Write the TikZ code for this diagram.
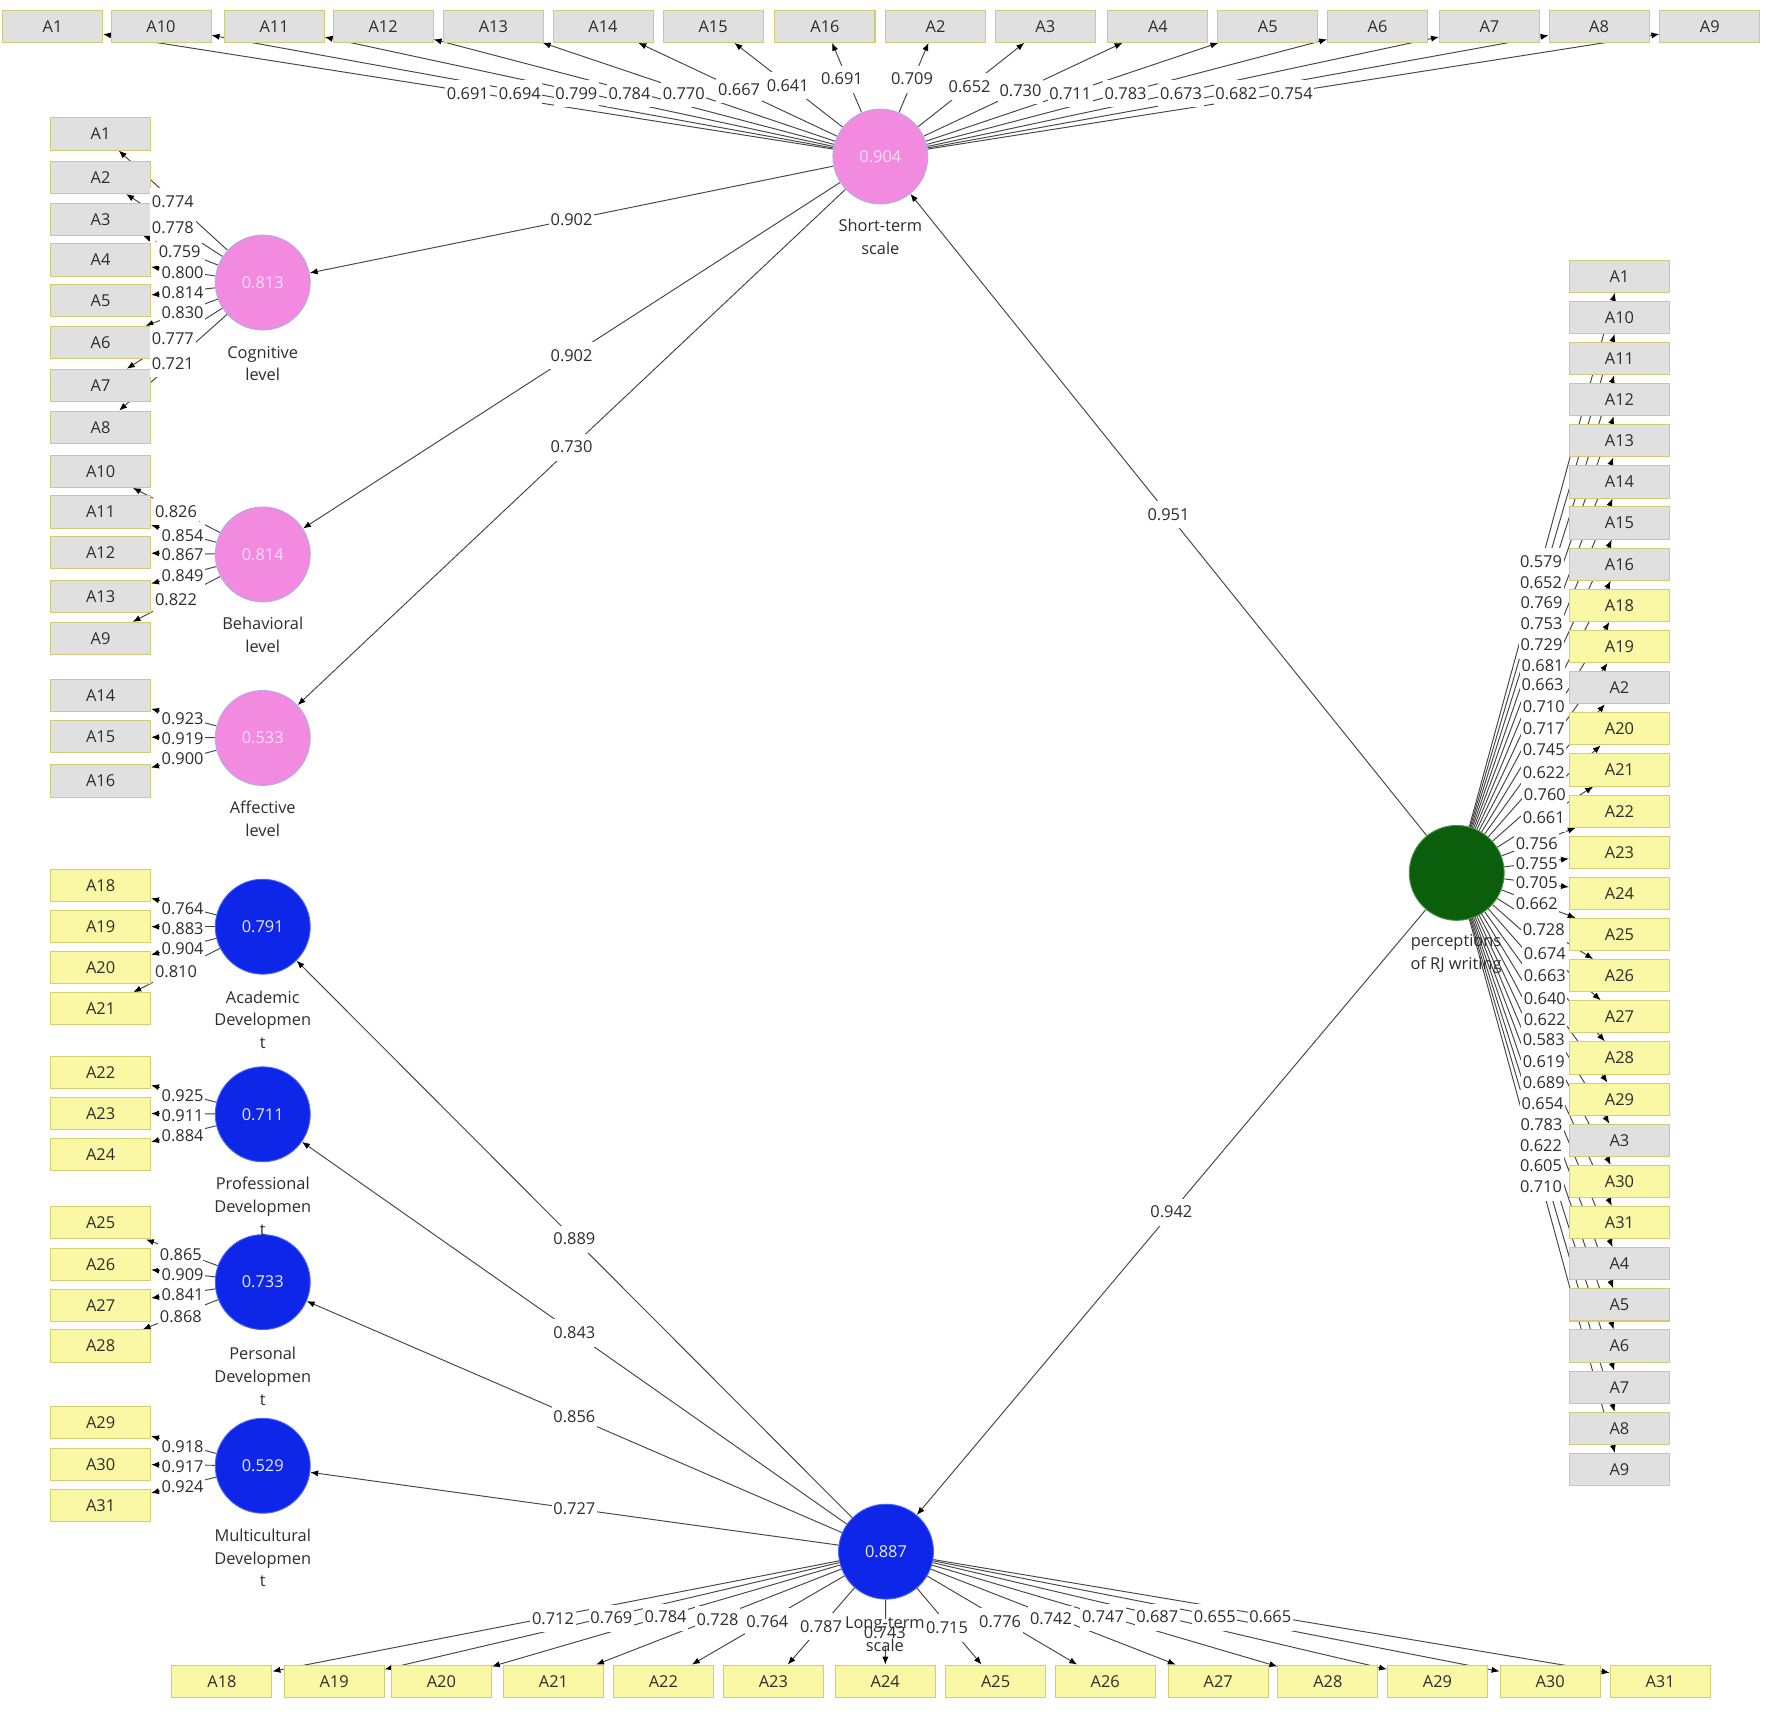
\documentclass[tikz,border=0pt]{standalone}
\usepackage{fontspec}
\setmainfont{Open Sans}
\usetikzlibrary{arrows.meta,calc}
\pgfdeclarelayer{bgl}
\pgfdeclarelayer{edges}
\pgfsetlayers{bgl,edges,main}
\definecolor{gfill}{RGB}{224,224,224}
\definecolor{gborder}{RGB}{205,205,120}
\definecolor{yfill}{RGB}{250,247,165}
\definecolor{yborder}{RGB}{212,206,110}
\definecolor{pinkc}{RGB}{242,138,224}
\definecolor{pinkb}{RGB}{170,175,235}
\definecolor{pinkt}{RGB}{252,222,246}
\definecolor{bluec}{RGB}{14,38,232}
\definecolor{blueb}{RGB}{70,100,255}
\definecolor{bluet}{RGB}{228,234,255}
\definecolor{greenc}{RGB}{11,94,11}
\definecolor{greenb}{RGB}{70,150,70}
\definecolor{edgec}{RGB}{70,70,70}
\definecolor{txtc}{RGB}{45,45,45}
\begin{document}
\begin{tikzpicture}[x=1pt,y=-1pt,
 indic/.style={rectangle, line width=0.9pt, minimum width=88.5pt, minimum height=28.5pt, inner sep=0pt, text=txtc, font=\fontsize{14.5}{16}\selectfont},
 gbox/.style={indic, fill=gfill, draw=gborder},
 ybox/.style={indic, fill=yfill, draw=yborder},
 lv/.style={circle, minimum size=84pt, inner sep=0pt, line width=0.8pt, font=\fontsize{14.5}{16}\selectfont},
 pinklv/.style={lv, fill=pinkc, draw=pinkb, text=pinkt},
 bluelv/.style={lv, fill=bluec, draw=blueb, text=bluet},
 greenlv/.style={lv, fill=greenc, draw=greenb},
 ld/.style={fill=white, inner xsep=1.5pt, inner ysep=1pt, text height=16pt, text depth=6pt, text=txtc, font=\fontsize{14.5}{16}\selectfont},
 cname/.style={align=center, text=txtc, font=\fontsize{14.5}{20.3}\selectfont, inner sep=0pt},
 edge/.style={draw=edgec, line width=0.85pt, -{Latex[length=7pt,width=5.5pt,color=black]}}
]
\useasboundingbox (0,0) rectangle (1568,1519);
\begin{pgfonlayer}{bgl}
\fill[white] (0,0) rectangle (1568,1519);
\end{pgfonlayer}

% latent variables
\node[pinklv] (ST) at (779,138.5) {0.904};
\node[pinklv] (COG) at (232.5,250) {0.813};
\node[pinklv] (BEH) at (232.5,490.6) {0.814};
\node[pinklv] (AFF) at (232.5,653) {0.533};
\node[bluelv] (ACA) at (232.5,820) {0.791};
\node[bluelv] (PRO) at (232.5,986) {0.711};
\node[bluelv] (PER) at (232.5,1134.5) {0.733};
\node[bluelv] (MUL) at (232.5,1297) {0.529};
\node[bluelv] (LT) at (784,1373) {0.887};
\node[greenlv] (PRC) at (1289,772.4) {};

% top row
\foreach \n/\x in {1/46.5,10/142.5,11/242.6,12/339,13/436.6,14/533.6,15/631,16/730,2/827.8,3/925,4/1024.6,5/1121.8,6/1219,7/1318,8/1415,9/1513}
  \node[gbox] (t\n) at (\x,23.2) {A\n};

% left column
\foreach \n/\y in {1/118.5,2/157,3/194,4/230,5/266,6/303,7/341,8/378,10/417,11/453,12/489,13/528,9/565,14/615.5,15/652,16/691}
  \node[gbox] (l\n) at (89,\y) {A\n};
\foreach \n/\y in {18/783.5,19/820,20/856,21/892.7,22/948.7,23/985,24/1021.5,25/1082,26/1118.6,27/1155,28/1191,29/1259,30/1295.6,31/1332}
  \node[ybox] (l\n) at (89,\y) {A\n};

% bottom row
\foreach \n/\x in {18/196.4,19/295.6,20/390.5,21/489.8,22/587,23/684.3,24/783.3,25/881,26/978,27/1078,28/1175,29/1272,30/1371.6,31/1469}
  \node[ybox] (b\n) at (\x,1487.6) {A\n};

% right column
\foreach \n/\i in {1/0,10/1,11/2,12/3,13/4,14/5,15/6,16/7,2/10,3/21,4/24,5/25,6/26,7/27,8/28,9/29}
  \node[gbox] (r\n) at (1433,{244.4+36.41*\i}) {A\n};
\foreach \n/\i in {18/8,19/9,20/11,21/12,22/13,23/14,24/15,25/16,26/17,27/18,28/19,29/20,30/22,31/23}
  \node[ybox] (r\n) at (1433,{244.4+36.41*\i}) {A\n};

% connectors
\begin{pgfonlayer}{edges}
\foreach \n in {1,10,11,12,13,14,15,16,2,3,4,5,6,7,8,9} \draw[edge] (ST) -- (t\n);
\foreach \n in {1,...,8} \draw[edge] (COG) -- (l\n);
\foreach \n in {10,11,12,13,9} \draw[edge] (BEH) -- (l\n);
\foreach \n in {14,15,16} \draw[edge] (AFF) -- (l\n);
\foreach \n in {18,19,20,21} \draw[edge] (ACA) -- (l\n);
\foreach \n in {22,23,24} \draw[edge] (PRO) -- (l\n);
\foreach \n in {25,26,27,28} \draw[edge] (PER) -- (l\n);
\foreach \n in {29,30,31} \draw[edge] (MUL) -- (l\n);
\foreach \n in {18,...,31} \draw[edge] (LT) -- (b\n);
\foreach \n in {1,10,11,12,13,14,15,16,18,19,2,20,21,22,23,24,25,26,27,28,29,3,30,31,4,5,6,7,8,9} \draw[edge] (PRC) -- (r\n);
\draw[edge] (ST) -- (COG);
\draw[edge] (ST) -- (BEH);
\draw[edge] (ST) -- (AFF);
\draw[edge] (PRC) -- (ST);
\draw[edge] (PRC) -- (LT);
\draw[edge] (LT) -- (ACA);
\draw[edge] (LT) -- (PRO);
\draw[edge] (LT) -- (PER);
\draw[edge] (LT) -- (MUL);
\end{pgfonlayer}

% path coefficients
\node[ld] at ($(ST)!0.5!(COG)$) {0.902};
\node[ld] at ($(ST)!0.5!(BEH)$) {0.902};
\node[ld] at ($(ST)!0.5!(AFF)$) {0.730};
\node[ld] at ($(PRC)!0.5!(ST)$) {0.951};
\node[ld] at ($(PRC)!0.5!(LT)$) {0.942};
\node[ld] at ($(LT)!0.5!(ACA)$) {0.889};
\node[ld] at ($(LT)!0.5!(PRO)$) {0.843};
\node[ld] at ($(LT)!0.5!(PER)$) {0.856};
\node[ld] at ($(LT)!0.5!(MUL)$) {0.727};

% loadings: top row
\foreach \v/\x/\y in {0.691/414/83,0.694/460/83,0.799/510/83,0.784/557/83,0.770/605/83,0.667/654/79.5,0.641/697/76,0.691/745/70,0.709/807/70,0.652/858/76.5,0.730/903/80,0.711/947/83,0.783/996/83,0.673/1045/83,0.682/1094/83,0.754/1143/83}
  \node[ld] at (\x,\y) {\v};
% loadings: left side
\foreach \v/\x/\y in {0.774/153/178.5,0.778/153/201.5,0.759/159/223,0.800/161.6/241.3,0.814/161.6/259,0.830/161.6/277,0.777/153/300,0.721/153/322,
  0.826/155.7/452.8,0.854/161.6/474.3,0.867/161.6/491,0.849/161.6/509.7,0.822/155.7/531,
  0.923/161.6/636,0.919/161.6/654,0.900/161.6/671.6,
  0.764/161.6/804.6,0.883/161.6/822,0.904/161.6/839.8,0.810/155.7/859.8,
  0.925/161.6/969.5,0.911/161.6/987,0.884/161.6/1005,
  0.865/160/1110.5,0.909/161.6/1128,0.841/161.6/1146,0.868/160/1165,
  0.918/161.6/1280.5,0.917/161.6/1298,0.924/161.6/1315.5}
  \node[ld] at (\x,\y) {\v};
% loadings: bottom row
\foreach \v/\x/\y in {0.712/489.3/1432.5,0.769/541/1432,0.784/589/1431,0.728/635/1433,0.764/679/1435,0.787/726.5/1439.5,0.743/783/1445,0.715/838/1440.5,0.776/885/1435,0.742/930/1432.7,0.747/976/1431,0.687/1024/1431,0.655/1075/1431,0.665/1124/1431}
  \node[ld] at (\x,\y) {\v};
% loadings: right column
\foreach \v/\x/\y in {0.579/1363.6/497,0.652/1363.6/515.3,0.769/1364/533,0.753/1364/551.6,0.729/1364/570.8,0.681/1365/589,0.663/1365/606,0.710/1366/625.3,0.717/1366/644.5,0.745/1366/663.7,0.622/1366/683.7,0.760/1367/703.5,0.661/1366/724,0.756/1359.8/746.8,0.755/1359.8/764.5,0.705/1359.8/781.6,0.662/1359.8/800,0.728/1366/823,0.674/1367/844,0.663/1367/863.4,0.640/1367/883.4,0.622/1367/902,0.583/1366/920.3,0.619/1366/940,0.689/1366/958.6,0.654/1365/976.5,0.783/1364/995,0.622/1363.6/1013.8,0.605/1363.6/1031.8,0.710/1363.6/1050.6}
  \node[ld] at (\x,\y) {\v};

% construct names
\node[cname] (STn) at (779,209.7) {Short-term\\scale};
\node[cname] (COGn) at (232.5,321.7) {Cognitive\\level};
\node[cname] (BEHn) at (232.5,561.7) {Behavioral\\level};
\node[cname] (AFFn) at (232.5,724.6) {Affective\\level};
\node[cname] (ACAn) at (232.5,902.4) {Academic\\Developmen\\t};
\node[cname] (PROn) at (232.5,1067.6) {Professional\\Developmen\\t};
\node[cname] (PERn) at (232.5,1217.7) {Personal\\Developmen\\t};
\node[cname] (MULn) at (232.5,1378.5) {Multicultural\\Developmen\\t};
\node[cname] (LTn) at (783,1446.3) {Long-term\\scale};
\node[cname] (PRCn) at (1288.4,844.4) {perceptions\\of RJ writing};
\end{tikzpicture}
\end{document}
